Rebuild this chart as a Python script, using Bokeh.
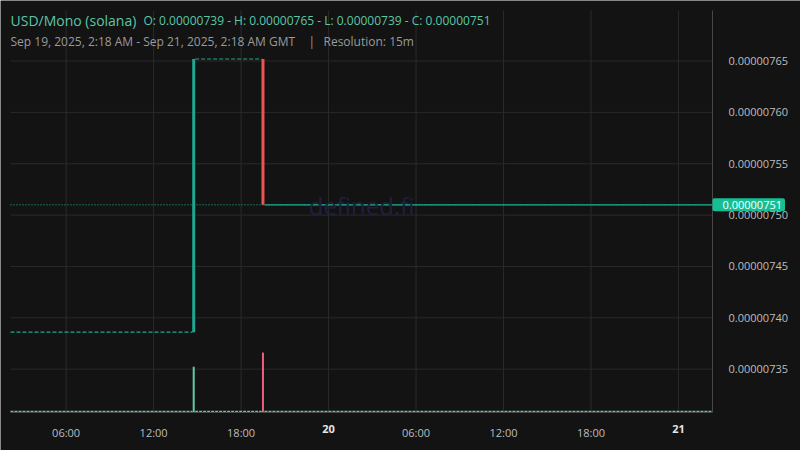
import pandas as pd
from bokeh.plotting import figure
from bokeh.models import Range1d, FixedTicker, PrintfTickFormatter, Label, LinearAxis
from bokeh.embed import file_html
from bokeh.resources import INLINE

# ---------------- data ----------------
title_pair = "USD/Mono (solana)"
ohlc_text = "O: 0.00000739 - H: 0.00000765 - L: 0.00000739 - C: 0.00000751"
date_text = "Sep 19, 2025, 2:18 AM - Sep 21, 2025, 2:18 AM GMT"
resolution_text = "Resolution: 15m"
watermark = "defined.fi"

view_start = "2025-09-19 02:11"
view_end = "2025-09-21 02:20"
price_low = 7.3078e-6
price_high = 7.6992e-6
volume_max = 1000

# candles that moved
candle_time = ["2025-09-19 14:45", "2025-09-19 19:30"]
candle_open = [7.386e-6, 7.652e-6]
candle_close = [7.652e-6, 7.510e-6]
candle_volume = [114, 149]

# runs of flat candles (open == close)
flat_start = ["2025-09-19 02:11", "2025-09-19 14:51", "2025-09-19 19:36"]
flat_end = ["2025-09-19 14:40", "2025-09-19 19:25", "2025-09-21 02:18"]
flat_price = [7.386e-6, 7.652e-6, 7.510e-6]
flat_volume = 2.5

last_price = 7.51e-6
last_price_text = "0.00000751"

price_ticks = [7.35e-6, 7.40e-6, 7.45e-6, 7.50e-6, 7.55e-6, 7.60e-6, 7.65e-6]
time_ticks = ["2025-09-19 06:00", "2025-09-19 12:00", "2025-09-19 18:00", "2025-09-20 00:00",
              "2025-09-20 06:00", "2025-09-20 12:00", "2025-09-20 18:00", "2025-09-21 00:00"]
time_labels = ["06:00", "12:00", "18:00", "20", "06:00", "12:00", "18:00", "21"]
time_is_day = [False, False, False, True, False, False, False, True]

# ---------------- styling / layout ----------------
BG = "#131313"
GRID = "#2a2a2a"
BORDER = "#474747"
UP = "#1ea88f"
DOWN = "#ef5350"
UP_VOL = "#5ecaa7"
DOWN_VOL = "#f0607a"
TEAL_TXT = "#5cc6a6"
GREY_TXT = "#9a9a9a"
TAG = "#16bf93"
FONT = "Open Sans"
PANE_W = 702      # width of the price pane in px
PANE_H = 402      # height of the price pane in px
LEFT_PAD = 10     # space left of the pane
TOP_PAD = 10      # space above the pane
SCALE_W = 88      # width of the price scale in px
TIME_H = 38       # height of the time scale in px


def ms(s):
    return pd.Timestamp(s).value / 1e6


x0, x1 = ms(view_start), ms(view_end)
xpp = (x1 - x0) / PANE_W
ypp = (price_high - price_low) / PANE_H
vpp = volume_max / PANE_H

p = figure(width=800, height=450, output_backend="svg", toolbar_location=None,
           title_location=None,
           x_range=Range1d(x0 - xpp * LEFT_PAD, x1 + xpp * SCALE_W),
           y_range=Range1d(price_low - ypp * TIME_H, price_high + ypp * TOP_PAD),
           x_axis_location=None, y_axis_location=None,
           min_border_left=0, min_border_top=0, min_border_right=0, min_border_bottom=0,
           background_fill_color=BG, border_fill_color=BG, outline_line_color=None)
p.extra_y_ranges = {"vol": Range1d(-vpp * TIME_H, volume_max + vpp * TOP_PAD)}
p.xgrid.visible = False
p.ygrid.visible = False

# grid, limited to the pane
xt = [ms(t) for t in time_ticks]
p.segment(x0=[x0] * len(price_ticks), x1=[x1] * len(price_ticks), y0=price_ticks, y1=price_ticks,
          line_color=GRID, line_width=1, level="underlay")
p.segment(x0=xt, x1=xt, y0=[price_low] * len(xt), y1=[price_high] * len(xt),
          line_color=GRID, line_width=1, level="underlay")

# time axis (hours normal, days bold), drawn at the pane's bottom edge
hour_axis = LinearAxis(ticker=FixedTicker(ticks=xt), fixed_location=price_low, bounds=(x0, x1),
                       major_label_overrides={int(t): ("" if d else lab)
                                              for t, lab, d in zip(xt, time_labels, time_is_day)},
                       axis_line_color=BORDER, major_label_text_color="#bdbdbd")
day_ticks = [t for t, d in zip(xt, time_is_day) if d]
day_axis = LinearAxis(ticker=FixedTicker(ticks=day_ticks), fixed_location=price_low,
                      major_label_overrides={int(t): lab for t, lab, d in zip(xt, time_labels, time_is_day) if d},
                      axis_line_color=None, major_label_text_color="#e6e6e6",
                      major_label_text_font_style="bold")
for ax in (hour_axis, day_axis):
    ax.major_tick_line_color = None
    ax.minor_tick_line_color = None
    ax.major_label_text_font = FONT
    ax.major_label_text_font_size = "11px"
    ax.major_label_standoff = 6
    p.add_layout(ax, "below")

# price axis drawn at the pane's right edge
yax = LinearAxis(ticker=FixedTicker(ticks=price_ticks), formatter=PrintfTickFormatter(format="%.8f"),
                 fixed_location=x1, bounds=(price_low, price_high), axis_line_color=BORDER,
                 major_tick_line_color=None, minor_tick_line_color=None,
                 major_label_text_color="#bdbdbd", major_label_text_font=FONT,
                 major_label_text_font_size="11px", major_label_standoff=10)
p.add_layout(yax, "right")

# watermark
p.add_layout(Label(x=361, y=245, x_units="screen", y_units="screen", text=watermark,
                   text_align="center", text_baseline="middle", text_color="#20203c",
                   text_font=FONT, text_font_size="24px"))

# volume
vt = [ms(t) for t in candle_time]
vol_colors = [UP_VOL if c >= o else DOWN_VOL for o, c in zip(candle_open, candle_close)]
p.segment(x0=[ms(s) for s in flat_start], x1=[ms(e) for e in flat_end],
          y0=[flat_volume] * len(flat_start), y1=[flat_volume] * len(flat_start),
          y_range_name="vol", line_color=UP_VOL, line_width=1.5, line_dash="3 1")
p.segment(x0=vt, y0=[0] * len(vt), x1=vt, y1=candle_volume, y_range_name="vol",
          line_color=vol_colors, line_width=2)

# last price line
p.segment(x0=[x0], x1=[x1], y0=[last_price], y1=[last_price], line_color=TAG,
          line_dash="1 2", line_width=1)

# flat candles
fs = [ms(s) for s in flat_start]
fe = [ms(e) for e in flat_end]
p.segment(x0=fs[:2], x1=fe[:2], y0=flat_price[:2], y1=flat_price[:2],
          line_color=UP, line_width=1.2, line_dash="4 2")
p.segment(x0=fs[2:], x1=fe[2:], y0=flat_price[2:], y1=flat_price[2:],
          line_color=UP, line_width=1.2)

# moving candles
c_colors = [UP if c >= o else DOWN for o, c in zip(candle_open, candle_close)]
p.segment(x0=vt, x1=vt, y0=candle_open, y1=candle_close, line_color=c_colors, line_width=3)

# price tag
p.add_layout(Label(x=x1, y=last_price, text=last_price_text,
                   text_baseline="middle", text_color="white", text_font=FONT,
                   text_font_size="11px", background_fill_color=TAG,
                   padding=dict(left=10, right=3, top=3, bottom=2), border_radius=2))

# header texts (screen units)
p.add_layout(Label(x=10, y=430, x_units="screen", y_units="screen", text=title_pair,
                   text_baseline="middle", text_color=TEAL_TXT, text_font=FONT, text_font_size="14px"))
p.add_layout(Label(x=143, y=430, x_units="screen", y_units="screen", text=ohlc_text,
                   text_baseline="middle", text_color=TEAL_TXT, text_font=FONT, text_font_size="12px"))
p.add_layout(Label(x=10, y=409, x_units="screen", y_units="screen", text=date_text,
                   text_baseline="middle", text_color=GREY_TXT, text_font=FONT, text_font_size="12px"))
p.add_layout(Label(x=308, y=409, x_units="screen", y_units="screen", text="|",
                   text_baseline="middle", text_color=GREY_TXT, text_font=FONT, text_font_size="12px"))
p.add_layout(Label(x=323, y=409, x_units="screen", y_units="screen", text=resolution_text,
                   text_baseline="middle", text_color=GREY_TXT, text_font=FONT, text_font_size="12px"))

open("out.html", "w").write(file_html(p, INLINE))
